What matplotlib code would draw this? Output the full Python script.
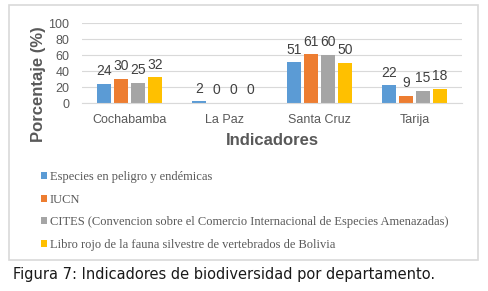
import matplotlib
matplotlib.use("Agg")
import matplotlib.pyplot as plt
import numpy as np
from matplotlib.patches import Rectangle

categories = ["Cochabamba", "La Paz", "Santa Cruz", "Tarija"]
series_names = [
    "Especies en peligro y endémicas",
    "IUCN",
    "CITES (Convencion sobre el Comercio Internacional de Especies Amenazadas)",
    "Libro rojo de la fauna silvestre de vertebrados de Bolivia",
]
especies = [24, 2, 51, 22]
iucn = [30, 0, 61, 9]
cites = [25, 0, 60, 15]
libro = [32, 0, 50, 18]
values = [especies, iucn, cites, libro]
colors = ["#5B9BD5", "#ED7D31", "#A5A5A5", "#FFC000"]
yticks = [0, 20, 40, 60, 80, 100]

plt.rcParams["font.family"] = ["Liberation Sans", "DejaVu Sans"]

W, H = 489, 291
fig = plt.figure(figsize=(W / 100, H / 100), dpi=100)

# outer chart frame
fig.patches.append(Rectangle((9 / W, 1 - 260 / H), 469 / W, 255 / H,
                             transform=fig.transFigure, fill=False,
                             edgecolor="#D9D9D9", linewidth=1.2))

ax = fig.add_axes([82 / W, 188 / H, 380 / W, 80 / H])
x = np.arange(len(categories))
bw = 0.147
step = 0.18
text_gray = "#595959"
bars_all = []
for i, (vals, name, c) in enumerate(zip(values, series_names, colors)):
    bars = ax.bar(x + (i - 1.5) * step, vals, width=bw, color=c, label=name)
    ax.bar_label(bars, padding=4, fontsize=10, color="#404040")
    bars_all.append(bars)

ax.set_xlim(-0.5, 3.5)
ax.set_ylim(0, 100)
ax.set_yticks(yticks)
ax.set_xticks(x)
ax.set_xticklabels(categories)
ax.tick_params(axis="both", length=0, labelsize=9, labelcolor=text_gray)
ax.tick_params(axis="x", pad=8)
ax.tick_params(axis="y", pad=9)
ax.yaxis.grid(True, color="#D9D9D9", linewidth=0.8)
ax.set_axisbelow(True)
for s in ["top", "right", "left"]:
    ax.spines[s].set_visible(False)
ax.spines["bottom"].set_color("#D9D9D9")

fig.text(272 / W, 1 - 140 / H, "Indicadores", ha="center", va="center",
         fontsize=12, fontweight="bold", color=text_gray)
fig.text(38 / W, 1 - 84 / H, "Porcentaje (%)", ha="center", va="center",
         rotation=90, fontsize=12, fontweight="bold", color=text_gray)

fig.legend(handles=bars_all, labels=series_names, loc="upper left",
           bbox_to_anchor=(41 / W, 1 - 171 / H), frameon=False,
           prop={"family": "Liberation Serif", "size": 9},
           labelcolor=text_gray, handlelength=0.5, handleheight=0.5,
           handletextpad=0.2, labelspacing=0.85, borderpad=0, borderaxespad=0)

fig.text(13 / W, 1 - 275 / H, "Figura 7: Indicadores de biodiversidad por departamento.",
         ha="left", va="center", fontsize=10.5, color="#1a1a1a",
         family="DejaVu Sans")

fig.savefig("out.png", dpi=100)
